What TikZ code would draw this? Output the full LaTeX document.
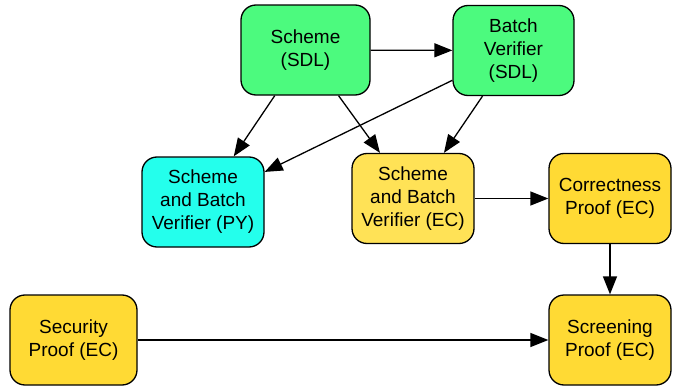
\documentclass[tikz,border=0pt]{standalone}
\usepackage{fontspec}
\setmainfont{Liberation Sans}
\usetikzlibrary{arrows.meta}

\definecolor{sdlgreen}{RGB}{76,250,126}
\definecolor{pycyan}{RGB}{36,255,236}
\definecolor{ecyellow}{RGB}{255,226,86}
\definecolor{proofyellow}{RGB}{255,218,52}

\begin{document}
\begin{tikzpicture}[x=1pt,y=-1pt,
  box/.style={rectangle,rounded corners=15pt,draw=black,line width=1.3pt,minimum height=90pt,minimum width=122pt,align=center,inner sep=2pt,font=\fontsize{19}{23}\selectfont},
  link/.style={-{Triangle[length=18pt,width=14pt]},line width=1.3pt}]
\useasboundingbox (0,0) rectangle (681,388);

  % boxes
  \node[box,fill=sdlgreen,minimum width=129pt] (scheme) at (305.5,50) {Scheme\\(SDL)};
  \node[box,fill=sdlgreen,minimum width=121pt] (batch) at (513.5,50.5) {Batch\\Verifier\\(SDL)};
  \node[box,fill=pycyan] (py) at (203,202) {Scheme\\and Batch\\Verifier (PY)};
  \node[box,fill=ecyellow] (ec) at (413,198.5) {Scheme\\and Batch\\Verifier (EC)};
  \node[box,fill=proofyellow] (correct) at (610,198.5) {Correctness\\Proof (EC)};
  \node[box,fill=proofyellow,minimum width=127pt] (security) at (73.5,340) {Security\\Proof (EC)};
  \node[box,fill=proofyellow] (screen) at (610,340) {Screening\\Proof (EC)};

  % arrows
  \draw[link] (scheme) -- (batch);
  \draw[link] (scheme) -- (py);
  \draw[link] (scheme) -- (ec);
  \draw[link] (batch) -- (py);
  \draw[link] (batch) -- (ec);
  \draw[link] (ec) -- (correct);
  \draw[link] (correct) -- (screen);
  \draw[link] (security) -- (screen);

\end{tikzpicture}
\end{document}
